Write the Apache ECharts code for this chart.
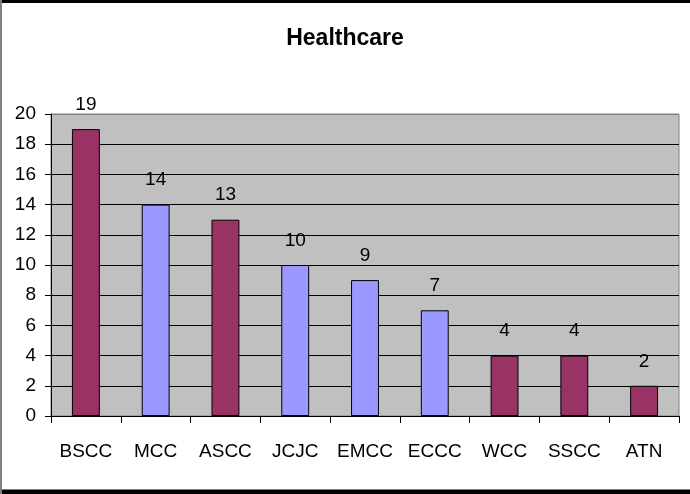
<!DOCTYPE html>
<html>
<head>
<meta charset="utf-8">
<script src="https://cdn.jsdelivr.net/npm/echarts@6/dist/echarts.min.js"></script>
<style>html,body{margin:0;padding:0;background:#fff}#c{width:690px;height:494px}</style>
</head>
<body>
<div id="c"></div>
<script>
const categories = ['BSCC','MCC','ASCC','JCJC','EMCC','ECCC','WCC','SSCC','ATN'];
const values = [19,14,13,10,9,7,4,4,2];
const yTicks = [0,2,4,6,8,10,12,14,16,18,20];

const MAROON = '#993366', LAV = '#9999FF';
const barColors = [MAROON, LAV, MAROON, LAV, LAV, LAV, MAROON, MAROON, MAROON];
const FONT = '"Liberation Sans", Arial, sans-serif';

const chart = echarts.init(document.getElementById('c'), null, {renderer: 'canvas'});
const splitColors = yTicks.map((v, i) => i === yTicks.length - 1 ? '#808080' : '#000000');
chart.setOption({
  animation: false,
  backgroundColor: '#ffffff',
  title: {
    text: 'Healthcare', left: 'center', top: 22,
    textStyle: {fontFamily: FONT, fontWeight: 'bold', fontSize: 23, color: '#000'}
  },
  grid: {left: 51, right: 11, top: 114, bottom: 78, show: true, backgroundColor: '#C0C0C0', borderColor: '#808080', borderWidth: 1},
  xAxis: {
    type: 'category', data: categories,
    axisLine: {lineStyle: {color: '#000', width: 1}},
    axisTick: {show: true, alignWithLabel: false, length: 7, lineStyle: {color: '#000'}},
    axisLabel: {interval: 0, fontFamily: FONT, fontSize: 19, color: '#000', margin: 26}
  },
  yAxis: {
    type: 'value', min: yTicks[0], max: yTicks[yTicks.length - 1], interval: 2,
    axisLine: {show: true, lineStyle: {color: '#000', width: 1}},
    axisTick: {show: true, length: 6, lineStyle: {color: '#000'}},
    axisLabel: {fontFamily: FONT, fontSize: 19, color: '#000', margin: 15},
    splitLine: {show: true, lineStyle: {color: splitColors, width: 1}}
  },
  series: [{
    type: 'bar',
    data: values,
    barWidth: '40%',
    itemStyle: {
      color: p => barColors[p.dataIndex],
      borderColor: '#000', borderWidth: 1
    },
    label: {show: true, position: 'top', distance: 15, fontFamily: FONT, fontSize: 19, color: '#000'}
  }],
  graphic: [
    {type: 'rect', shape: {x: 0, y: 0, width: 690, height: 3}, style: {fill: '#000'}, z: 100},
    {type: 'rect', shape: {x: 0, y: 490, width: 690, height: 4}, style: {fill: '#000'}, z: 100},
    {type: 'rect', shape: {x: 0, y: 489, width: 690, height: 1}, style: {fill: '#808080'}, z: 100},
    {type: 'rect', shape: {x: 0, y: 0, width: 2, height: 494}, style: {fill: '#808080'}, z: 100}
  ]
});
</script>
</body>
</html>
